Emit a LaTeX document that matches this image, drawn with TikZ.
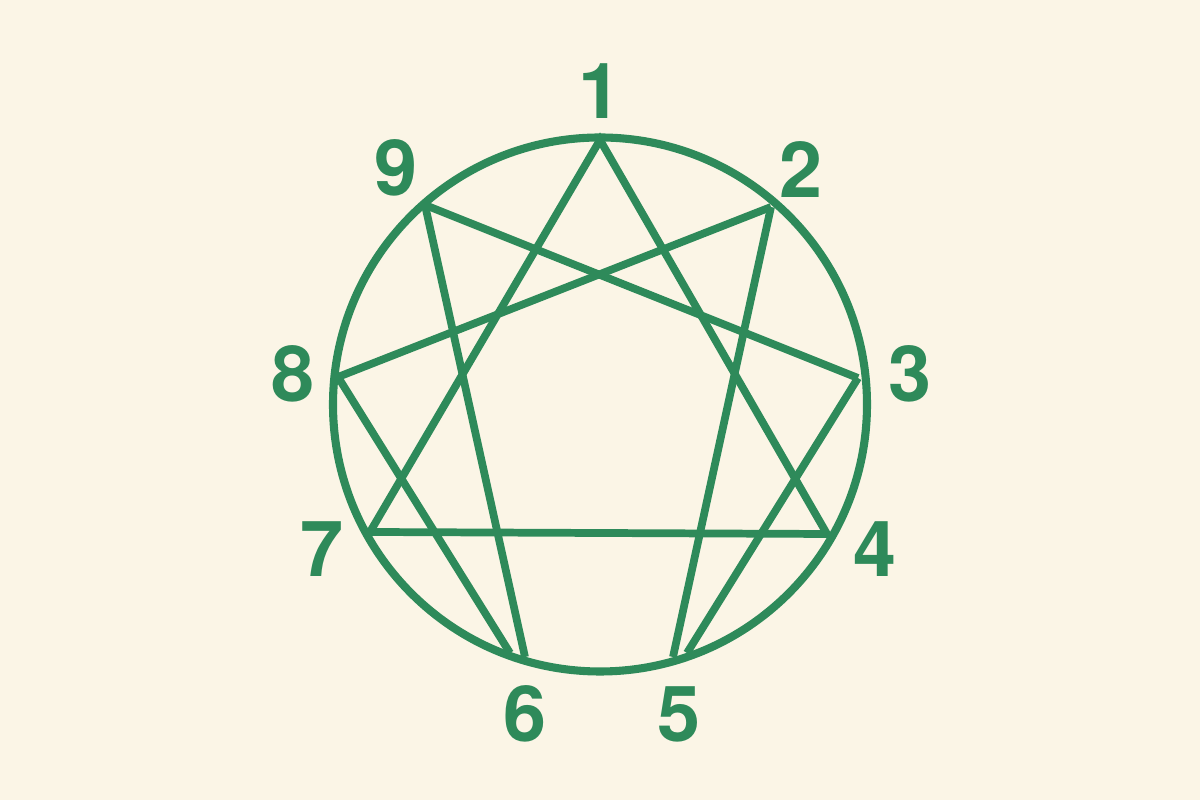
\documentclass[tikz,border=0pt]{standalone}
\usepackage{fontspec}
\setmainfont{TeX Gyre Heros}
\definecolor{paper}{HTML}{FBF5E6}
\definecolor{leaf}{HTML}{2E8A5A}
\begin{document}
\begin{tikzpicture}[line width=2.2pt,
    ring/.style={draw=leaf,line width=2.3pt},
    chord/.style={draw=leaf,line cap=butt,line join=miter},
    num/.style={font=\fontsize{22}{22}\selectfont\bfseries,text=leaf,inner sep=0pt}]
  \fill[paper] (0,0) rectangle (12,8);
  \useasboundingbox (0,0) rectangle (12,8);
  \coordinate (c) at (6,3.955); % centre of the ring
  \draw[ring] (c) circle (2.67);
  \coordinate (v1) at (6.00,6.60); % point 1
  \coordinate (v2) at (7.71,5.93);
  \coordinate (v3) at (8.58,4.22);
  \coordinate (v4) at (8.27,2.66);
  \coordinate (v5a) at (6.73,1.43); % point 5, end of line from 2
  \coordinate (v5b) at (6.87,1.47); % point 5, end of line from 3
  \coordinate (v6a) at (5.10,1.47); % point 6, end of line from 8
  \coordinate (v6b) at (5.25,1.43); % point 6, end of line from 9
  \coordinate (v7) at (3.70,2.68);
  \coordinate (v8) at (3.38,4.23);
  \coordinate (v9) at (4.25,5.95);
  \node[num] (n1) at (6.00,7.09) {1}; % label 1
  \node[num] (n2) at (8.01,6.30) {2};
  \node[num] (n3) at (9.10,4.26) {3};
  \node[num] (n4) at (8.75,2.51) {4};
  \node[num] (n5) at (6.79,0.86) {5};
  \node[num] (n6) at (5.25,0.86) {6};
  \node[num] (n7) at (3.22,2.51) {7};
  \node[num] (n8) at (2.93,4.26) {8};
  \node[num] (n9) at (3.96,6.32) {9};
  \draw[chord] (v1) -- (v4) -- (v7) -- cycle; % triangle 1-4-7
  \draw[chord] (v2) -- (v8); % line 2 -> 8
  \draw[chord] (v8) -- (v6a); % line 8 -> 6
  \draw[chord] (v6b) -- (v9); % line 6 -> 9
  \draw[chord] (v9) -- (v3); % line 9 -> 3
  \draw[chord] (v3) -- (v5b); % line 3 -> 5
  \draw[chord] (v5a) -- (v2); % line 5 -> 2
\end{tikzpicture}
\end{document}
